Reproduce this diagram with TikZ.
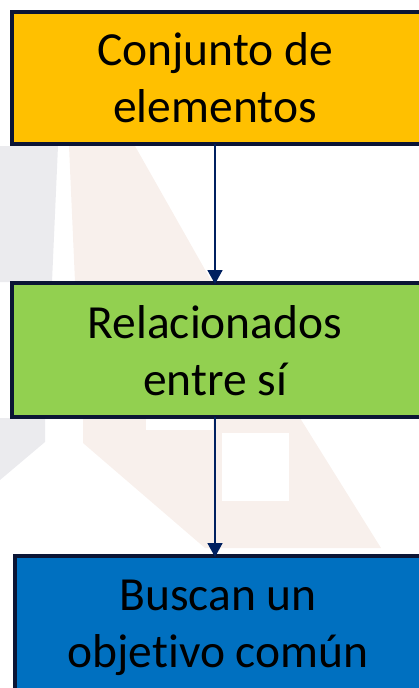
\documentclass[tikz,border=0pt]{standalone}
\usepackage{fontspec}
\setmainfont{Carlito}[Ligatures=NoCommon]
\usetikzlibrary{arrows.meta}
\definecolor{boxorange}{HTML}{FFC000}
\definecolor{boxgreen}{HTML}{92D050}
\definecolor{boxblue}{HTML}{0070C0}
\definecolor{boxedge}{HTML}{0B1535}
\definecolor{arrowblue}{HTML}{002060}
\definecolor{wmgrey}{HTML}{EBEBEE}
\definecolor{wmpink}{HTML}{F8F0EC}
\tikzset{
  x=1pt, y=-1pt,
  flowbox/.style={draw=boxedge, line width=3.5pt, inner sep=0pt},
  boxtext/.style={anchor=base, inner sep=0pt, font=\fontsize{47.5}{56}\selectfont, text=black},
  flowarrow/.style={draw=arrowblue, line width=1.8pt, -{Triangle[length=14pt,width=15pt]}, shorten >=-1pt},
}
\begin{document}
\begin{tikzpicture}
\useasboundingbox (0,0) rectangle (418,688);
% faint watermark
\fill[wmgrey] (0,146) -- (58,146) -- (52,282) -- (0,282) -- cycle;
\fill[wmgrey] (0,418) -- (45,418) -- (45,442) -- (0,480) -- cycle;
\fill[wmpink] (69,146) -- (135,146) -- (212,282) -- (75,282) -- cycle;
\fill[wmpink] (83,418) -- (300,418) -- (381,548) -- (205,548) -- (83,443) -- cycle;
\fill[white] (146,418) -- (213,418) -- (213,430) -- (146,430) -- cycle;
\fill[white] (222,433) rectangle (289,501);
% boxes
\draw[flowbox, fill=boxorange] (12,12) rectangle (422,144);
\draw[flowbox, fill=boxgreen] (12,283) rectangle (422,417);
\draw[flowbox, fill=boxblue] (15,556) rectangle (425,700);
\coordinate (b1top) at (215,12);
\coordinate (b1bot) at (215,144);
\coordinate (b2top) at (215,283);
\coordinate (b2bot) at (215,417);
\coordinate (b3top) at (215,556);
\node[boxtext] (t1a) at (215,65) {Conjunto de};
\node[boxtext] (t1b) at (215,122) {elementos};
\node[boxtext] (t2a) at (215,338) {Relacionados};
\node[boxtext] (t2b) at (215,395) {entre sí};
\node[boxtext] (t3a) at (218,610) {Buscan un};
\node[boxtext] (t3b) at (218,667) {objetivo común};
% connectors
\draw[flowarrow] (b1bot) -- (b2top);
\draw[flowarrow] (b2bot) -- (b3top);
\end{tikzpicture}
\end{document}
